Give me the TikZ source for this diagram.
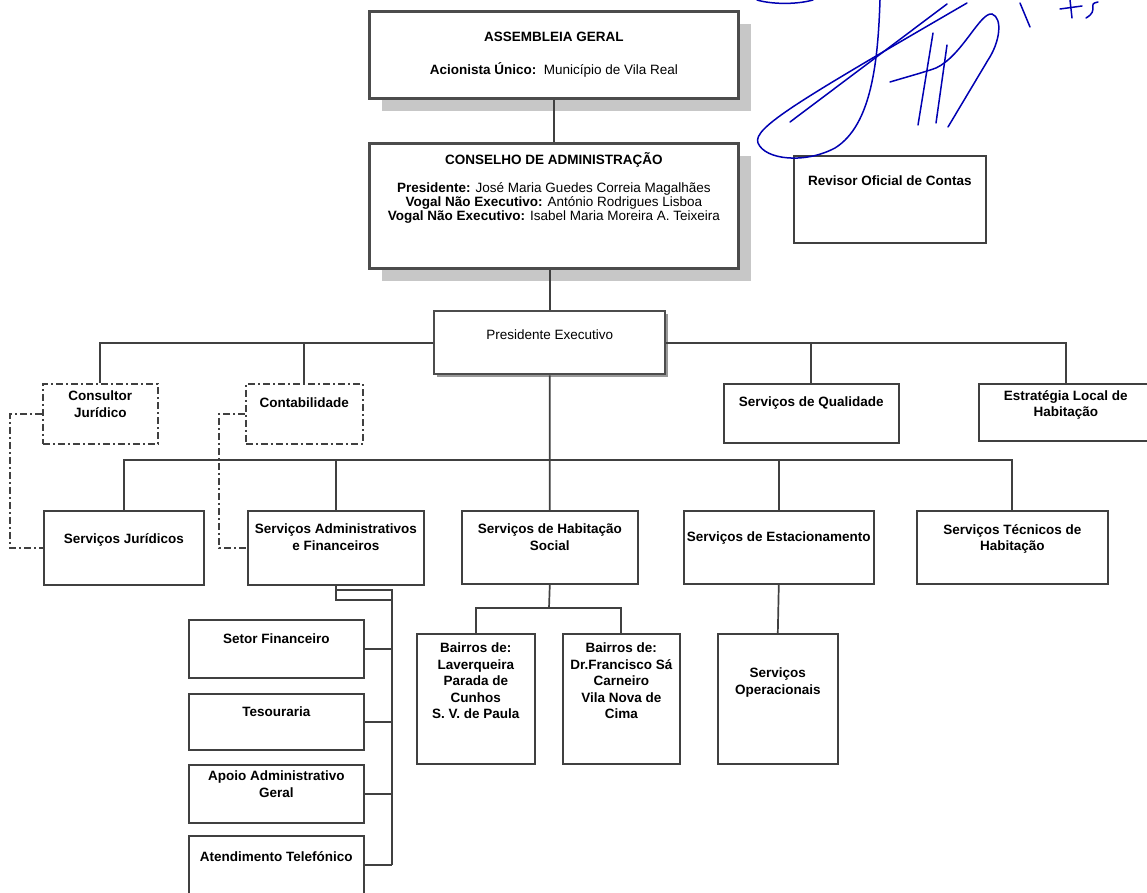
\documentclass[tikz,border=0pt]{standalone}
\usepackage{fontspec}
\setmainfont{Liberation Sans}
\usetikzlibrary{positioning,shadows}

\begin{document}
\begin{tikzpicture}[x=1pt,y=-1pt,
    box/.style={draw=black!75,line width=1.6pt,fill=white,anchor=north west,inner sep=0pt},
    mainbox/.style={box,draw=black!70,line width=2.8pt,drop shadow={shadow xshift=13pt,shadow yshift=-13pt,fill=black!22,opacity=1}},
    pebox/.style={box,draw=black!70,line width=2.4pt,drop shadow={shadow xshift=3pt,shadow yshift=-3pt,fill=black!40,opacity=1}},
    dashbox/.style={box,dash pattern=on 7pt off 3pt on 2pt off 3pt},
    txt/.style={align=center,inner sep=0pt,font=\fontsize{13.5}{16.5}\selectfont\bfseries},
    txtr/.style={txt,font=\fontsize{13.5}{14}\selectfont},
    link/.style={draw=black!75,line width=1.7pt},
    dlink/.style={link,dash pattern=on 7pt off 3pt on 2pt off 3pt},
    sign/.style={draw=blue!70!black,line width=1.5pt,line cap=round}]
    \useasboundingbox (0,0) rectangle (1147,893);

    % top
    \node (ag) [mainbox,minimum width=369pt,minimum height=87pt] at (368,10) {};
    \node (ag-t) [txtr,below=22pt of ag.north] {\textbf{ASSEMBLEIA GERAL}\\[19pt]\textbf{Acionista Único:}\ \ Município de Vila Real};
    \node (ca) [mainbox,minimum width=369pt,minimum height=125pt] at (368,142) {};
    \node (ca-t) [txtr,below=10pt of ca.north] {\textbf{CONSELHO DE ADMINISTRAÇÃO}\\[14pt]
        \textbf{Presidente:} José Maria Guedes Correia Magalhães\\
        \textbf{Vogal Não Executivo:} António Rodrigues Lisboa\\
        \textbf{Vogal Não Executivo:} Isabel Maria Moreira A. Teixeira};
    \node (rc) [box,minimum width=192pt,minimum height=87pt] at (793,155) {};
    \node (rc-t) [txt,below=21pt of rc.north] {Revisor Oficial de Contas};
    \node (pe) [pebox,minimum width=231pt,minimum height=63pt] at (433,310) {};
    \node (pe-t) [txtr,below=20pt of pe.north] {Presidente Executivo};

    % staff
    \node (cj) [dashbox,minimum width=115pt,minimum height=60pt] at (42,383) {};
    \node (cj-t) [txt,below=8pt of cj.north] {Consultor\\Jurídico};
    \node (cb) [dashbox,minimum width=117pt,minimum height=60pt] at (245,383) {};
    \node (cb-t) [txt,below=15pt of cb.north] {Contabilidade};
    \node (sq) [box,minimum width=175pt,minimum height=59pt] at (723,383) {};
    \node (sq-t) [txt,below=14pt of sq.north] {Serviços de Qualidade};
    \node (el) [box,minimum width=174pt,minimum height=57pt] at (978,383) {};
    \node (el-t) [txt,below=7pt of el.north] {Estratégia Local de\\Habitação};

    % services
    \node (sj) [box,minimum width=160pt,minimum height=74pt] at (43,510) {};
    \node (sj-t) [txt,below=23pt of sj.north] {Serviços Jurídicos};
    \node (sa) [box,minimum width=176pt,minimum height=74pt] at (247,510) {};
    \node (sa-t) [txt,below=14pt of sa.north] {Serviços Administrativos\\e Financeiros};
    \node (hs) [box,minimum width=176pt,minimum height=73pt] at (461,510) {};
    \node (hs-t) [txt,below=14pt of hs.north] {Serviços de Habitação\\Social};
    \node (se) [box,minimum width=190pt,minimum height=73pt] at (683,510) {};
    \node (se-t) [txt,below=22pt of se.north] {Serviços de Estacionamento};
    \node (st) [box,minimum width=191pt,minimum height=73pt] at (916,510) {};
    \node (st-t) [txt,below=14pt of st.north] {Serviços Técnicos de\\Habitação};

    % sections
    \node (sf) [box,minimum width=175pt,minimum height=58pt] at (188,619) {};
    \node (sf-t) [txt,below=15pt of sf.north] {Setor Financeiro};
    \node (ts) [box,minimum width=175pt,minimum height=56pt] at (188,693) {};
    \node (ts-t) [txt,below=14pt of ts.north] {Tesouraria};
    \node (aa) [box,minimum width=175pt,minimum height=58pt] at (188,764) {};
    \node (aa-t) [txt,below=7pt of aa.north] {Apoio Administrativo\\Geral};
    \node (at) [box,minimum width=175pt,minimum height=60pt] at (188,835) {};
    \node (at-t) [txt,below=16pt of at.north] {Atendimento Telefónico};
    \node (b1) [box,minimum width=118pt,minimum height=130pt] at (416,633) {};
    \node (b1-t) [txt,below=10pt of b1.north] {Bairros de:\\Laverqueira\\Parada de\\Cunhos\\S. V. de Paula};
    \node (b2) [box,minimum width=117pt,minimum height=130pt] at (562,633) {};
    \node (b2-t) [txt,below=10pt of b2.north] {Bairros de:\\Dr.Francisco Sá\\Carneiro\\Vila Nova de\\Cima};
    \node (so) [box,minimum width=120pt,minimum height=130pt] at (717,633) {};
    \node (so-t) [txt,below=35pt of so.north] {Serviços\\Operacionais};

    \coordinate (j2) at (549,460);
    \coordinate (cjl) at (10,480);
    \coordinate (cbl) at (219,480);
    \coordinate (sat) at (335,590);
    \coordinate (sab) at (392,600);
    \coordinate (bus) at (392,865);
    \coordinate (hsj) at (549,608);

    \draw[link] (ag) -- (ca);
    \draw[link] (pe.north |- ca.south) -- (pe.north);
    \draw[link] (pe) -| (cj);
    \draw[link] (pe) -| (cb);
    \draw[link] (pe) -| (sq);
    \draw[link] (pe) -| (el);
    \draw[link] (pe.south) -- (hs.north);
    \draw[link] (j2) -| (sj);
    \draw[link] (j2) -| (sa);
    \draw[link] (j2) -| (se);
    \draw[link] (j2) -| (st);
    \draw[dlink] (cj) -| (cjl) |- (sj);
    \draw[dlink] (cb) -| (cbl) |- (sa);
    \draw[link] (sa.south) |- (sab);
    \draw[link] (sat) -| (bus);
    \draw[link] (sf.east) -- (sf.east -| bus);
    \draw[link] (ts.east) -- (ts.east -| bus);
    \draw[link] (aa.east) -- (aa.east -| bus);
    \draw[link] (at.east |- bus) -- (bus);
    \draw[link] (hs.south) -- (hsj);
    \draw[link] (hsj) -| (b1);
    \draw[link] (hsj) -| (b2);
    \draw[link] (se.south) -- (so.north);

    % signature
    \draw[sign] (880,0) .. controls (878,60) and (872,125) .. (835,148)
        .. controls (805,164) and (765,160) .. (758,143)
        .. controls (752,128) and (800,100) .. (967,3);
    \draw[sign] (947,4) -- (790,122);
    \draw[sign] (757,0) .. controls (770,4) and (795,5) .. (813,0);
    \draw[sign] (933,33) -- (918,125);
    \draw[sign] (947,45) -- (936,123);
    \draw[sign] (890,82) .. controls (910,76) and (925,72) .. (936,68)
        .. controls (962,56) and (980,12) .. (992,14)
        .. controls (1003,18) and (1000,42) .. (988,60) -- (948,127);
    \draw[sign] (1020,3) -- (1030,27);
    \draw[sign] (1060,9) -- (1082,6);
    \draw[sign] (1070,0) -- (1072,18);
    \draw[sign] (1098,2) .. controls (1086,4) and (1100,10) .. (1086,18);
\end{tikzpicture}
\end{document}
